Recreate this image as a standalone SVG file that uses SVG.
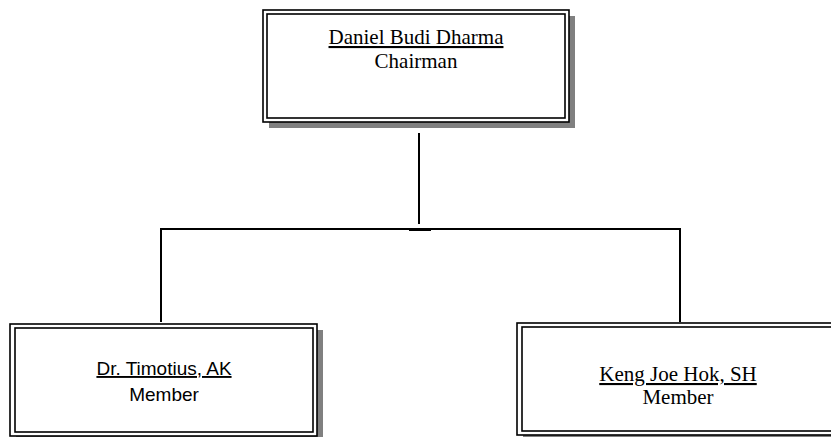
<svg xmlns="http://www.w3.org/2000/svg" width="831" height="437" viewBox="0 0 831 437">
<style>
.shadow{fill:#808080;stroke:none}
.outer{fill:#fff;stroke:#000;stroke-width:1.6}
.inner{fill:none;stroke:#000;stroke-width:1.6}
.serif{font-family:"Liberation Serif","Times New Roman",serif;font-size:21px;fill:#000;text-anchor:middle}
.sans{font-family:"Liberation Sans",Arial,sans-serif;font-size:19px;fill:#000;text-anchor:middle}
.u{text-decoration:underline}
.conn{stroke:#000;stroke-width:2;fill:none}
</style>
<rect width="831" height="437" fill="#fff"/>
<g id="connectors">
<line class="conn" x1="419" y1="133" x2="419" y2="224"/>
<line class="conn" x1="160" y1="229" x2="680" y2="229"/>
<line x1="409" y1="229.5" x2="431" y2="229.5" stroke="#000" stroke-width="3"/>
<line class="conn" x1="161" y1="228" x2="161" y2="322"/>
<line class="conn" x1="680" y1="228" x2="680" y2="322"/>
</g>
<g id="chairman">
<rect class="shadow" x="269" y="16" width="306" height="112"/>
<rect class="outer" x="263" y="10" width="306" height="112"/>
<rect class="inner" x="267" y="14" width="298" height="104"/>
<text class="serif u" x="416" y="44">Daniel Budi Dharma</text>
<text class="serif" x="416" y="68">Chairman</text>
</g>
<g id="member1">
<rect class="shadow" x="16" y="330" width="307" height="112"/>
<rect class="outer" x="10" y="324" width="307" height="112"/>
<rect class="inner" x="15" y="328" width="298" height="104"/>
<text class="sans u" x="164" y="375">Dr. Timotius, AK</text>
<text class="sans" x="164" y="401">Member</text>
</g>
<g id="member2">
<rect class="shadow" x="523" y="329" width="322" height="112"/>
<rect class="outer" x="517" y="323" width="322" height="112"/>
<rect class="inner" x="522" y="327" width="312" height="104"/>
<text class="serif u" x="678" y="381">Keng Joe Hok, SH</text>
<text class="serif" x="678" y="404">Member</text>
</g>
</svg>
